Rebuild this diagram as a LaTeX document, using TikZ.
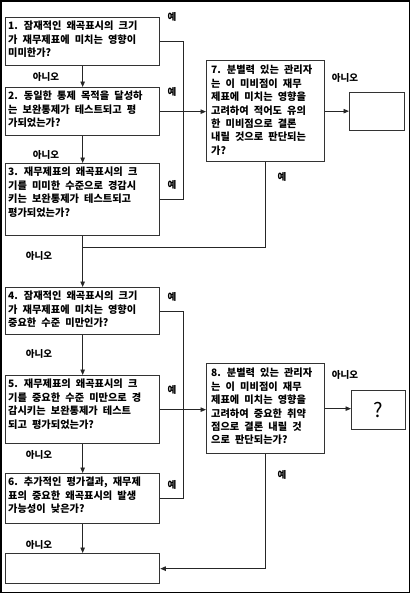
\documentclass[tikz,border=0pt]{standalone}
\usepackage{fontspec}
\newfontfamily\kr[WordSpace=2.2]{Noto Sans CJK KR}
\usetikzlibrary{arrows.meta}
\tikzset{
  box/.style={draw=black!80, line width=1.3pt, anchor=north west, inner sep=0pt},
  txt/.style={font=\kr\bfseries\fontsize{10.2}{13.4}\selectfont, align=left, inner sep=0pt, anchor=north west},
  lbl/.style={font=\kr\bfseries\fontsize{9.5}{10}\selectfont, inner sep=0pt},
  conn/.style={draw=black!85, line width=0.9pt},
  arr/.style={conn, -{Triangle[length=5.5pt,width=4.5pt]}}
}
\begin{document}
\begin{tikzpicture}[x=1pt,y=-1pt]
\useasboundingbox (0,0) rectangle (411,594);
\draw[line width=1.2pt] (1,1) rectangle (409.5,592.5);

% boxes
\node[box, minimum width=154pt, minimum height=48pt] (b1) at (5,17) {};
\node[box, minimum width=154pt, minimum height=48pt] (b2) at (5,87) {};
\node[box, minimum width=154pt, minimum height=72pt] (b3) at (5,163) {};
\node[box, minimum width=154pt, minimum height=47pt] (b4) at (5,287) {};
\node[box, minimum width=154pt, minimum height=68pt] (b5) at (5,375) {};
\node[box, minimum width=154pt, minimum height=50pt] (b6) at (5,473) {};
\node[box, minimum width=154pt, minimum height=30pt] (b9) at (5,553) {};
\node[box, minimum width=118pt, minimum height=101pt] (b7) at (206,60) {};
\node[box, minimum width=55pt, minimum height=38pt] (r7) at (349,92) {};
\node[box, minimum width=118pt, minimum height=90pt] (b8) at (206,363) {};
\node[box, minimum width=54pt, minimum height=39pt] (q8) at (351,390) {};

% texts
\node[txt] (t1) at ([xshift=3pt,yshift=-4pt]b1.north west) {1. 잠재적인 왜곡표시의 크기\\가 재무제표에 미치는 영향이\\미미한가?};
\node[txt] (t2) at ([xshift=3pt,yshift=-4pt]b2.north west) {2. 동일한 통제 목적을 달성하\\는 보완통제가 테스트되고 평\\가되었는가?};
\node[txt] (t3) at ([xshift=3pt,yshift=-4pt]b3.north west) {3. 재무제표의 왜곡표시의 크\\기를 미미한 수준으로 경감시\\키는 보완통제가 테스트되고\\평가되었는가?};
\node[txt] (t4) at ([xshift=3pt,yshift=-4pt]b4.north west) {4. 잠재적인 왜곡표시의 크기\\가 재무제표에 미치는 영향이\\중요한 수준 미만인가?};
\node[txt] (t5) at ([xshift=3pt,yshift=-4pt]b5.north west) {5. 재무제표의 왜곡표시의 크\\기를 중요한 수준 미만으로 경\\감시키는 보완통제가 테스트\\되고 평가되었는가?};
\node[txt] (t6) at ([xshift=3pt,yshift=-4pt]b6.north west) {6. 추가적인 평가결과, 재무제\\표의 중요한 왜곡표시의 발생\\가능성이 낮은가?};
\node[txt] (t7) at ([xshift=5pt,yshift=-5pt]b7.north west) {7. 분별력 있는 관리자\\는 이 미비점이 재무\\제표에 미치는 영향을\\고려하여 적어도 유의\\한 미비점으로 결론\\내릴 것으로 판단되는\\가?};
\node[txt] (t8) at ([xshift=5pt,yshift=-5pt]b8.north west) {8. 분별력 있는 관리자\\는 이 미비점이 재무\\제표에 미치는 영향을\\고려하여 중요한 취약\\점으로 결론 내릴 것\\으로 판단되는가?};
\node[font=\kr\fontsize{20}{20}\selectfont, inner sep=0pt] (qm) at (q8.center) {?};

% vertical flow
\coordinate (m3) at (82,247);
\draw[arr] (b1.south) -- (b2.north);
\draw[arr] (b2.south) -- (b3.north);
\draw[arr] (b3.south) -- (b4.north);
\draw[arr] (b4.south) -- (b5.north);
\draw[arr] (b5.south) -- (b6.north);
\draw[arr] (b6.south) -- (b9.north);

% upper yes-lines
\coordinate (j1) at (183,0);
\draw[conn] (b1.east) -| (j1 |- b3.east) -- (b3.east);
\draw[arr] (b2.east) -- (b2.east -| b7.west);
\draw[arr] (b7.east) -- (r7.west |- b7.east);
\draw[conn] (b7.south) |- (m3);

% lower yes-lines
\draw[conn] (b4.east) -| (j1 |- b6.east) -- (b6.east);
\draw[arr] (b5.east) -- (b5.east -| b8.west);
\draw[arr] (b8.east) -- (q8.west |- b8.east);
\draw[arr] (b8.south) |- (b9.east);

% labels
\node[lbl] (y1) at (172,17) {예};
\node[lbl] (y2) at (172,92) {예};
\node[lbl] (y3) at (172,185) {예};
\node[lbl] (y4) at (172,297) {예};
\node[lbl] (y5) at (172,390) {예};
\node[lbl] (y6) at (172,485) {예};
\node[lbl] (y7) at (282,177) {예};
\node[lbl] (y8) at (282,475) {예};
\node[lbl] (n1) at (46,77) {아니오};
\node[lbl] (n2) at (46,155) {아니오};
\node[lbl] (n3) at (39,256) {아니오};
\node[lbl] (n4) at (39,354) {아니오};
\node[lbl] (n5) at (39,455) {아니오};
\node[lbl] (n6) at (39,545) {아니오};
\node[lbl] (n7) at (345,78) {아니오};
\node[lbl] (n8) at (345,375) {아니오};
\end{tikzpicture}
\end{document}
